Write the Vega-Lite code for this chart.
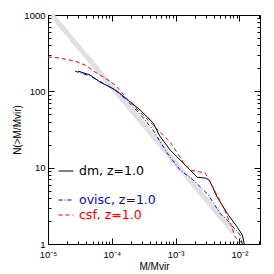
{
  "$schema": "https://vega.github.io/schema/vega-lite/v6.json",
  "width": 212,
  "height": 229,
  "autosize": {"type": "none"},
  "padding": {"left": 48, "top": 15, "right": 14, "bottom": 30},
  "background": "white",
  "config": {
    "view": {"stroke": null},
    "axis": {
      "grid": false,
      "domainColor": "black",
      "domainWidth": 1,
      "tickColor": "black",
      "tickWidth": 1,
      "labelFont": "Liberation Sans",
      "labelFontSize": 9.5,
      "labelColor": "black",
      "labelOverlap": false,
      "labelFlush": false,
      "labelBound": false,
      "titleFont": "Liberation Sans",
      "titleFontSize": 10,
      "titleFontWeight": "normal",
      "titleColor": "black"
    },
    "legend": {
      "orient": "none",
      "title": null,
      "padding": 0,
      "symbolType": "stroke",
      "symbolSize": 225,
      "symbolStrokeWidth": 1,
      "labelOffset": 5,
      "labelFont": "DejaVu Sans",
      "labelFontSize": 12.5,
      "rowPadding": 0
    }
  },
  "datasets": {
    "fit": [
      {"M": 0.0000115, "N": 1000},
      {"M": 0.008, "N": 1.4375}
    ],
    "curves": [
      {"s": "dm, z=1.0", "M": 0.0000296, "N": 184},
      {"s": "dm, z=1.0", "M": 0.0000456, "N": 164},
      {"s": "dm, z=1.0", "M": 0.0000655, "N": 132},
      {"s": "dm, z=1.0", "M": 0.000094, "N": 114},
      {"s": "dm, z=1.0", "M": 0.0001256, "N": 98},
      {"s": "dm, z=1.0", "M": 0.000278, "N": 57},
      {"s": "dm, z=1.0", "M": 0.000445, "N": 38.5},
      {"s": "dm, z=1.0", "M": 0.000553, "N": 26.7},
      {"s": "dm, z=1.0", "M": 0.000822, "N": 17},
      {"s": "dm, z=1.0", "M": 0.001315, "N": 11.5},
      {"s": "dm, z=1.0", "M": 0.00218, "N": 7.5},
      {"s": "dm, z=1.0", "M": 0.00292, "N": 7.3},
      {"s": "dm, z=1.0", "M": 0.00336, "N": 6.9},
      {"s": "dm, z=1.0", "M": 0.0045, "N": 4.1},
      {"s": "dm, z=1.0", "M": 0.00646, "N": 2.5},
      {"s": "dm, z=1.0", "M": 0.00927, "N": 1.66},
      {"s": "dm, z=1.0", "M": 0.0111, "N": 1.31},
      {"s": "dm, z=1.0", "M": 0.0119, "N": 1},
      {"s": "ovisc, z=1.0", "M": 0.0000265, "N": 184},
      {"s": "ovisc, z=1.0", "M": 0.0000456, "N": 159},
      {"s": "ovisc, z=1.0", "M": 0.0000729, "N": 128},
      {"s": "ovisc, z=1.0", "M": 0.0001127, "N": 104},
      {"s": "ovisc, z=1.0", "M": 0.000174, "N": 76},
      {"s": "ovisc, z=1.0", "M": 0.00031, "N": 45},
      {"s": "ovisc, z=1.0", "M": 0.000445, "N": 31},
      {"s": "ovisc, z=1.0", "M": 0.000738, "N": 15.5},
      {"s": "ovisc, z=1.0", "M": 0.00118, "N": 9.3},
      {"s": "ovisc, z=1.0", "M": 0.00189, "N": 6.9},
      {"s": "ovisc, z=1.0", "M": 0.00325, "N": 4.4},
      {"s": "ovisc, z=1.0", "M": 0.00404, "N": 3.3},
      {"s": "ovisc, z=1.0", "M": 0.00501, "N": 2.5},
      {"s": "ovisc, z=1.0", "M": 0.00646, "N": 2.06},
      {"s": "ovisc, z=1.0", "M": 0.00801, "N": 1.66},
      {"s": "ovisc, z=1.0", "M": 0.0103, "N": 1.31},
      {"s": "ovisc, z=1.0", "M": 0.0111, "N": 1},
      {"s": "csf, z=1.0", "M": 0.00001, "N": 282},
      {"s": "csf, z=1.0", "M": 0.0000154, "N": 273},
      {"s": "csf, z=1.0", "M": 0.0000265, "N": 249},
      {"s": "csf, z=1.0", "M": 0.0000381, "N": 221},
      {"s": "csf, z=1.0", "M": 0.0000547, "N": 179},
      {"s": "csf, z=1.0", "M": 0.0000785, "N": 149},
      {"s": "csf, z=1.0", "M": 0.0001127, "N": 121},
      {"s": "csf, z=1.0", "M": 0.0001935, "N": 72},
      {"s": "csf, z=1.0", "M": 0.000399, "N": 39.6},
      {"s": "csf, z=1.0", "M": 0.000822, "N": 21.7},
      {"s": "csf, z=1.0", "M": 0.001315, "N": 11.8},
      {"s": "csf, z=1.0", "M": 0.00169, "N": 9.3},
      {"s": "csf, z=1.0", "M": 0.00292, "N": 8.5},
      {"s": "csf, z=1.0", "M": 0.00389, "N": 5.4},
      {"s": "csf, z=1.0", "M": 0.00558, "N": 3.05},
      {"s": "csf, z=1.0", "M": 0.00719, "N": 1.88},
      {"s": "csf, z=1.0", "M": 0.00863, "N": 1.23},
      {"s": "csf, z=1.0", "M": 0.0115, "N": 1}
    ]
  },
  "layer": [
    {
      "data": {"name": "fit"},
      "mark": {"type": "line", "color": "#e0e0e0", "strokeWidth": 5, "strokeCap": "butt"},
      "encoding": {
        "x": {
          "field": "M", "type": "quantitative",
          "scale": {"type": "log", "domain": [0.00001, 0.021], "nice": false},
          "axis": {
            "orient": "bottom",
            "title": "M/Mvir",
            "titlePadding": 0,
            "values": [0.00001,0.00002,0.00003,0.00004,0.00005,0.00006,0.00007,0.00008,0.00009,0.0001,0.0002,0.0003,0.0004,0.0005,0.0006,0.0007,0.0008,0.0009,0.001,0.002,0.003,0.004,0.005,0.006,0.007,0.008,0.009,0.01,0.02],
            "tickSize": {"condition": {"test": "abs(log(datum.value)/LN10 - round(log(datum.value)/LN10)) < 1e-6", "value": -6}, "value": -3},
            "labelPadding": 11,
            "labelExpr": "abs(log(datum.value)/LN10 - round(log(datum.value)/LN10)) < 1e-6 ? ['10⁻⁵','10⁻⁴','10⁻³','10⁻²'][round(log(datum.value)/LN10) + 5] : ''"
          }
        },
        "y": {
          "field": "N", "type": "quantitative",
          "scale": {"type": "log", "domain": [1, 1000], "nice": false},
          "axis": {
            "orient": "left",
            "title": "N(>M/Mvir)",
            "titlePadding": 1,
            "values": [1,2,3,4,5,6,7,8,9,10,20,30,40,50,60,70,80,90,100,200,300,400,500,600,700,800,900,1000],
            "tickSize": {"condition": {"test": "abs(log(datum.value)/LN10 - round(log(datum.value)/LN10)) < 1e-6", "value": -6}, "value": -3},
            "labelPadding": 9,
            "labelExpr": "abs(log(datum.value)/LN10 - round(log(datum.value)/LN10)) < 1e-6 ? format(datum.value, 'd') : ''"
          }
        }
      }
    },
    {
      "data": {"name": "curves"},
      "transform": [{"filter": "datum.s === 'dm, z=1.0'"}],
      "mark": {"type": "line", "strokeWidth": 1},
      "encoding": {
        "x": {
          "field": "M", "type": "quantitative",
          "scale": {"type": "log", "domain": [0.00001, 0.021], "nice": false},
          "axis": {
            "orient": "top",
            "title": null,
            "labels": false,
            "values": [0.00001,0.00002,0.00003,0.00004,0.00005,0.00006,0.00007,0.00008,0.00009,0.0001,0.0002,0.0003,0.0004,0.0005,0.0006,0.0007,0.0008,0.0009,0.001,0.002,0.003,0.004,0.005,0.006,0.007,0.008,0.009,0.01,0.02],
            "tickSize": {"condition": {"test": "abs(log(datum.value)/LN10 - round(log(datum.value)/LN10)) < 1e-6", "value": -6}, "value": -3}
          }
        },
        "y": {
          "field": "N", "type": "quantitative",
          "scale": {"type": "log", "domain": [1, 1000], "nice": false},
          "axis": {
            "orient": "right",
            "title": null,
            "labels": false,
            "values": [1,2,3,4,5,6,7,8,9,10,20,30,40,50,60,70,80,90,100,200,300,400,500,600,700,800,900,1000],
            "tickSize": {"condition": {"test": "abs(log(datum.value)/LN10 - round(log(datum.value)/LN10)) < 1e-6", "value": -6}, "value": -3}
          }
        },
        "color": {
          "field": "s", "type": "nominal",
          "scale": {"domain": ["dm, z=1.0"], "range": ["#000000"]},
          "legend": {"legendX": 10, "legendY": 148, "labelColor": "#000000"}
        }
      }
    },
    {
      "data": {"name": "curves"},
      "transform": [{"filter": "datum.s !== 'dm, z=1.0'"}],
      "mark": {"type": "line", "strokeWidth": 1},
      "encoding": {
        "x": {"field": "M", "type": "quantitative", "scale": {"type": "log", "domain": [0.00001, 0.021], "nice": false}, "axis": null},
        "y": {"field": "N", "type": "quantitative", "scale": {"type": "log", "domain": [1, 1000], "nice": false}, "axis": null},
        "color": {
          "field": "s", "type": "nominal",
          "scale": {"domain": ["ovisc, z=1.0", "csf, z=1.0"], "range": ["#0000ff", "#ff0000"]},
          "legend": {
            "legendX": 10,
            "legendY": 177,
            "rowPadding": -2,
            "encode": {
              "labels": {
                "update": {
                  "fill": {"signal": "datum.value === 'ovisc, z=1.0' ? '#0000ff' : '#ff0000'"}
                }
              }
            }
          }
        },
        "strokeDash": {
          "field": "s", "type": "nominal",
          "scale": {"domain": ["ovisc, z=1.0", "csf, z=1.0"], "range": [[4, 2, 1, 2], [4, 3]]}
        }
      }
    }
  ],
  "resolve": {
    "axis": {"x": "independent", "y": "independent"},
    "scale": {"color": "independent", "strokeDash": "independent"}
  }
}
